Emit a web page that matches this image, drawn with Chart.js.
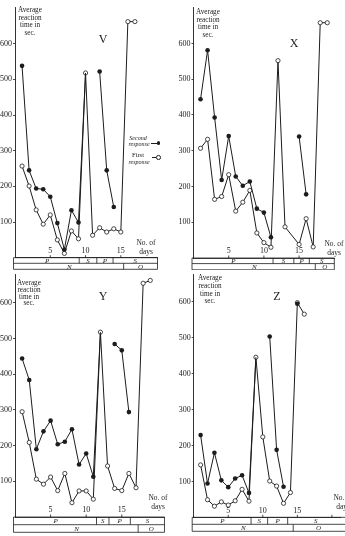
<!DOCTYPE html>
<html>
<head>
<meta charset="utf-8">
<script src="https://cdn.jsdelivr.net/npm/chart.js@4.4.0/dist/chart.umd.min.js"></script>
<style>
    body { margin: 0; width: 345px; height: 536px; position: relative; overflow: hidden; background: #fff;
           font-family: "Liberation Serif", "DejaVu Serif", serif; color: #1c1c1c; }
    canvas { position: absolute; }
    .c { position: absolute; white-space: nowrap; transform: translate(-50%, -50%); line-height: 1; }
    .title { position: absolute; width: 34px; text-align: center; font-size: 7.2px; }
    .letter { font-size: 12px; }
    .days { position: absolute; width: 30px; text-align: center; font-size: 7.5px; line-height: 8.5px; }
    .leg { font-size: 6px; font-style: italic; }
    .mark { position: absolute; }
</style>
</head>
<body>

<canvas id="chartV" width="172" height="270" style="left:0;top:0"></canvas>
<canvas id="chartX" width="173" height="270" style="left:172px;top:0"></canvas>
<canvas id="chartY" width="172" height="268" style="left:0;top:268px"></canvas>
<canvas id="chartZ" width="173" height="268" style="left:172px;top:268px"></canvas>

<!-- axis titles -->
<div class="title" style="left:13px;top:7px;line-height:7.7px">Average<br>reaction<br>time in<br>sec.</div>
<div class="title" style="left:191px;top:9px;line-height:7.5px">Average<br>reaction<br>time in<br>sec.</div>
<div class="title" style="left:12px;top:280px;line-height:6.8px">Average<br>reaction<br>time in<br>sec.</div>
<div class="title" style="left:193px;top:275px;line-height:7.8px">Average<br>reaction<br>time in<br>sec.</div>

<!-- panel letters -->
<div class="c letter" style="left:103px;top:39px">V</div>
<div class="c letter" style="left:294px;top:43px">X</div>
<div class="c letter" style="left:103px;top:296px">Y</div>
<div class="c letter" style="left:277px;top:296px">Z</div>

<!-- x axis name -->
<div class="days" style="left:131px;top:239px">No. of<br>days</div>
<div class="days" style="left:319px;top:240px">No. of<br>days</div>
<div class="days" style="left:143px;top:494px">No. of<br>days</div>
<div class="days" style="left:328px;top:494px">No. of<br>days</div>

<!-- legend (panel V) -->
<div class="c leg" style="left:138px;top:138px">Second</div>
<div class="c leg" style="left:139px;top:143.5px">response</div>
<div class="mark" style="left:151px;top:142.5px;width:6px;border-top:1px solid #1c1c1c"></div>
<div class="mark" style="left:156.5px;top:141px;width:3.6px;height:3.6px;border-radius:50%;background:#1c1c1c"></div>
<div class="c leg" style="left:138px;top:154.5px;font-style:normal;font-size:6.5px">First</div>
<div class="c leg" style="left:139px;top:162px">response</div>
<div class="mark" style="left:152px;top:156.5px;width:4px;border-top:1px solid #1c1c1c"></div>
<div class="mark" style="left:156px;top:155px;width:2.6px;height:2.6px;border-radius:50%;border:0.8px solid #1c1c1c;background:#fff"></div>

<script>
/* values: average reaction time (sec) per day */

const yTickValues = [100, 200, 300, 400, 500, 600];
const xTickValues = [5, 10, 15];
const xTickValuesZ = [5, 10, 15, 20];
const upperNames = ['P', 'S', 'P', 'S'];
const lowerNames = ['N', 'O'];

// V
const daysV = [1, 2, 3, 4, 5, 6, 7, 8, 9, 10, 11, 12, 13, 14, 15, 16, 17];
const firstV = [257, 201, 134, 94, 120, 50, 12, 75, 53, 518, 63, 84, 72, 81, 72, 662, 662];
const secondV = [538, 245, 194, 192, 171, 97, 23, 133, 99, 518, null, 522, 245, 142, null, null, null];
const upperV = [9.1, 11.6, 13.9];
const lowerV = [15.4];

// X
const daysX = [1, 2, 3, 4, 5, 6, 7, 8, 9, 10, 11, 12, 13, 14, 15, 16, 17, 18, 19];
const firstX = [307, 332, 164, 172, 233, 131, 156, 189, 70, 43, 30, 552, 87, null, 38, 110, 31, 658, 658];
const secondX = [444, 581, 393, 218, 341, 228, 202, 214, 138, 127, 58, null, null, null, 340, 178, null, null, null];
const upperX = [11.3, 14.25, 16.45];
const lowerX = [17.3];

// Y
const daysY = [1, 2, 3, 4, 5, 6, 7, 8, 9, 10, 11, 12, 13, 14, 15, 16, 17, 18, 19];
const firstY = [295, 209, 106, 92, 112, 74, 122, 40, 73, 73, 50, 518, 143, 80, 74, 122, 82, 655, 663];
const secondY = [444, 384, 190, 240, 270, 204, 211, 246, 147, 178, 113, 518, null, 485, 467, 294, null, null, null];
const upperY = [11.45, 13.2, 16.2];
const lowerY = [17.3];

// Z
const daysZ = [1, 2, 3, 4, 5, 6, 7, 8, 9, 10, 11, 12, 13, 14, 15, 16];
const firstZ = [146, 49, 31, 43, 34, 46, 78, 45, 446, 224, 101, 87, 39, 69, 598, 566];
const secondZ = [229, 94, 180, 103, 84, 108, 117, 68, 446, null, 504, 188, 85, null, 595, null];
const upperZ = [8.3, 10.7, 13.6];
const lowerZ = [14.4];

const ink = '#1c1c1c';
const serif = '"Liberation Serif", "DejaVu Serif", serif';

// day ticks sit above the axis line, with the P/S and N/O strips below it
const bandPlugin = {
    id: 'bands',
    afterDraw(chart, args, opts) {
        const ctx = chart.ctx;
        const area = chart.chartArea;
        const xs = chart.scales.x;
        const left = area.left - 1.5;
        const right = opts.open ? area.right + 10 : area.right;
        const y0 = area.bottom;
        const y1 = y0 + opts.row1;
        const y2 = y1 + opts.row2;

        ctx.save();
        ctx.strokeStyle = ink;
        ctx.lineWidth = 0.8;
        ctx.beginPath();
        ctx.moveTo(left, y0); ctx.lineTo(right, y0);
        ctx.moveTo(left, y1); ctx.lineTo(right, y1);
        ctx.moveTo(left, y2); ctx.lineTo(right, y2);
        ctx.moveTo(left, y0); ctx.lineTo(left, y2);
        ctx.moveTo(right, y0); ctx.lineTo(right, y2);
        opts.upper.forEach(d => {
            const px = xs.getPixelForValue(d);
            ctx.moveTo(px, y0); ctx.lineTo(px, y1);
        });
        opts.lower.forEach(d => {
            const px = xs.getPixelForValue(d);
            ctx.moveTo(px, y1); ctx.lineTo(px, y2);
        });
        xs.ticks.forEach(t => {
            const px = xs.getPixelForValue(t.value);
            ctx.moveTo(px, y0); ctx.lineTo(px, y0 - 2.5);
        });
        ctx.stroke();

        ctx.fillStyle = ink;
        ctx.textAlign = 'center';
        ctx.textBaseline = 'middle';
        ctx.font = '8px ' + serif;
        xs.ticks.forEach(t => {
            if (t.value === 20) return;
            ctx.fillText(String(t.value), xs.getPixelForValue(t.value), y0 - 6.8);
        });

        ctx.font = 'italic ' + opts.fontSize + 'px ' + serif;
        const lastX = opts.open ? Math.min(xs.max + 0.5, 22) : xs.max;
        const upEdges = [0, ...opts.upper, lastX];
        upperNames.forEach((name, i) => {
            const mid = (upEdges[i] + upEdges[i + 1]) / 2;
            ctx.fillText(name, xs.getPixelForValue(mid), (y0 + y1) / 2 + 0.5);
        });
        const lowEdges = [0, ...opts.lower, lastX];
        lowerNames.forEach((name, i) => {
            const mid = (lowEdges[i] + lowEdges[i + 1]) / 2;
            ctx.fillText(name, xs.getPixelForValue(mid), (y1 + y2) / 2 + 0.5);
        });
        ctx.restore();
    }
};

function makePanel(canvasId, days, first, second, upper, lower, geo) {
    const hideJoin = ctx => (second[ctx.dataIndex] !== null && second[ctx.dataIndex] === first[ctx.dataIndex]) ? 0 : 2.3;
    const ticksX = geo.lastTick ? xTickValuesZ : xTickValues;

    return new Chart(document.getElementById(canvasId), {
        type: 'line',
        data: {
            datasets: [
                {
                    label: 'Second response',
                    data: days.map((d, i) => ({ x: d, y: second[i] })),
                    borderColor: ink,
                    borderWidth: 1,
                    pointBackgroundColor: ink,
                    pointBorderWidth: 0,
                    pointRadius: hideJoin,
                    spanGaps: false,
                    tension: 0
                },
                {
                    label: 'First response',
                    data: days.map((d, i) => ({ x: d, y: first[i] })),
                    borderColor: ink,
                    borderWidth: 1,
                    pointBackgroundColor: '#fff',
                    pointBorderColor: ink,
                    pointBorderWidth: 0.8,
                    pointRadius: 2.1,
                    spanGaps: true,
                    tension: 0
                }
            ]
        },
        options: {
            responsive: false,
            animation: false,
            events: [],
            clip: false,
            layout: { padding: { left: 0, right: geo.padRight, top: geo.padTop, bottom: 0 } },
            plugins: {
                legend: { display: false },
                tooltip: { enabled: false },
                bands: { upper: upper, lower: lower, row1: geo.row1, row2: geo.row2, open: geo.open, fontSize: 7 }
            },
            scales: {
                x: {
                    type: 'linear',
                    position: 'bottom',
                    min: 0,
                    max: geo.xMax,
                    border: { display: true, color: ink, width: 0.8 },
                    grid: { display: false },
                    ticks: { display: false },
                    afterBuildTicks: s => { s.ticks = ticksX.map(v => ({ value: v })); },
                    afterFit: s => { s.height = geo.xAxisH; }
                },
                y: {
                    position: 'left',
                    min: 0,
                    max: geo.yMax,
                    border: { color: ink, width: 0.9 },
                    grid: { drawOnChartArea: false, tickLength: 2, color: ink, lineWidth: 0.8 },
                    ticks: {
                        color: ink,
                        font: { family: serif, size: 8 },
                        padding: 1
                    },
                    afterBuildTicks: s => { s.ticks = yTickValues.map(v => ({ value: v })); },
                    afterFit: s => { s.width = geo.axisW; }
                }
            }
        },
        plugins: [bandPlugin]
    });
}

makePanel('chartV', daysV, firstV, secondV, upperV, lowerV,
    { xMax: 20.2, yMax: 703, axisW: 15, padRight: 14.5, padTop: 7, xAxisH: 12.3, row1: 5.6, row2: 6.0 });
makePanel('chartX', daysX, firstX, secondX, upperX, lowerX,
    { xMax: 20, yMax: 702, axisW: 21.5, padRight: 10.7, padTop: 7, xAxisH: 12, row1: 5.6, row2: 6.2 });
makePanel('chartY', daysY, firstY, secondY, upperY, lowerY,
    { xMax: 21, yMax: 679, axisW: 15, padRight: 7.5, padTop: 6.7, xAxisH: 19, row1: 7.7, row2: 7.6 });
makePanel('chartZ', daysZ, firstZ, secondZ, upperZ, lowerZ,
    { xMax: 21.2, yMax: 676, axisW: 21.7, padRight: 0, padTop: 6.7, xAxisH: 18.7, row1: 7, row2: 7, open: true, lastTick: true });
</script>
</body>
</html>
